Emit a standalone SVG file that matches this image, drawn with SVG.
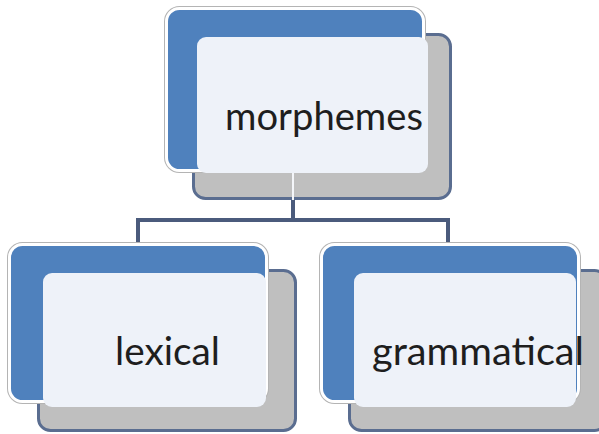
<svg xmlns="http://www.w3.org/2000/svg" width="599" height="434" viewBox="0 0 599 434">
<style>
.halo{fill:none;stroke:#b4b4b4;stroke-width:5}
.blue{fill:#4f81bd;stroke:#ffffff;stroke-width:3}
.grey{fill:#bfbfbf;stroke:#5a6d90;stroke-width:3}
.front{fill:#eef2f9}
.lbl{font-family:Lato,"Open Sans","Liberation Sans",sans-serif;font-size:38px;fill:#1e1e1e}
.conn{fill:none;stroke:#4b5b7c;stroke-width:4}
</style>
<rect width="599" height="434" fill="#ffffff"/>
<g id="node-morphemes">
<rect class="grey" x="193.5" y="34.5" width="257" height="164" rx="12"/>
<rect class="halo" x="166.5" y="8.5" width="257" height="162" rx="13"/>
<rect class="blue" x="166.5" y="8.5" width="257" height="162" rx="13"/>
<rect class="front" x="197" y="37" width="231" height="136" rx="9"/>
<text class="lbl" x="225" y="130" textLength="198" lengthAdjust="spacingAndGlyphs">morphemes</text>
</g>
<g id="node-lexical">
<rect class="grey" x="38.5" y="270.5" width="257" height="160" rx="12"/>
<rect class="halo" x="9.5" y="244.5" width="257" height="157" rx="13"/>
<rect class="blue" x="9.5" y="244.5" width="257" height="157" rx="13"/>
<rect class="front" x="43" y="273" width="223" height="134" rx="9"/>
<text class="lbl" x="115" y="365" textLength="105" lengthAdjust="spacingAndGlyphs">lexical</text>
</g>
<g id="node-grammatical">
<rect class="grey" x="349.5" y="270.5" width="257" height="160" rx="12"/>
<rect class="halo" x="321.5" y="244.5" width="257" height="157" rx="13"/>
<rect class="blue" x="321.5" y="244.5" width="257" height="157" rx="13"/>
<rect class="front" x="354" y="273" width="222" height="134" rx="9"/>
<text class="lbl" x="372" y="365" textLength="212" lengthAdjust="spacingAndGlyphs">grammatical</text>
</g>
<g id="connectors">
<path d="M293 173V200" fill="none" stroke="#f4f6fa" stroke-width="2"/>
<path class="conn" d="M293 200V220M138 242V220H448V242"/>
</g>
</svg>
